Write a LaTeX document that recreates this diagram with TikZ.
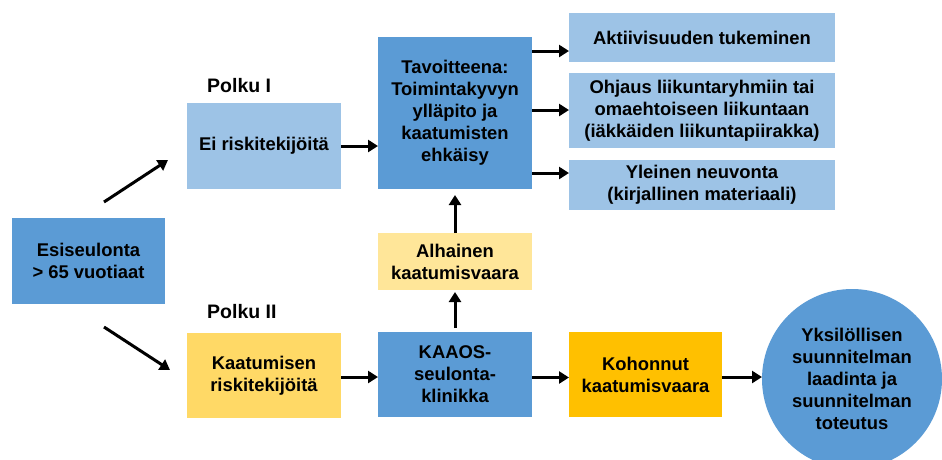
\documentclass[tikz,border=0pt]{standalone}
\usepackage{fontspec}
\setmainfont{Liberation Sans}
\usetikzlibrary{arrows.meta}
\definecolor{dblue}{HTML}{5B9BD5}
\definecolor{lblue}{HTML}{9DC3E6}
\definecolor{lyel}{HTML}{FFE699}
\definecolor{myel}{HTML}{FFD966}
\definecolor{oran}{HTML}{FFC000}
\begin{document}
\begin{tikzpicture}[x=1pt,y=-1pt,
  box/.style={draw=none, inner sep=0pt, outer sep=0pt, align=center,
    font=\fontsize{18.4}{22}\selectfont\bfseries},
  polku/.style={anchor=west, inner sep=0pt, font=\fontsize{19.5}{23}\selectfont\bfseries},
  arr/.style={line width=3pt, -{Triangle[length=10pt,width=12pt]}}
]
\useasboundingbox (0,0) rectangle (942,459);
\clip (0,0) rectangle (942,459);
\fill[white] (0,0) rectangle (942,459);

\node[box, fill=dblue, minimum width=153pt, minimum height=86pt] (esi) at (88.5,261) {Esiseulonta\\> 65 vuotiaat};
\node[box, fill=lblue, minimum width=154pt, minimum height=86pt] (ei) at (264,146) {Ei riskitekijöitä};
\node[box, fill=dblue, minimum width=154pt, minimum height=152pt] (tav) at (455,113) {Tavoitteena:\\Toimintakyvyn\\ylläpito ja\\kaatumisten\\ehkäisy};
\node[box, fill=lblue, minimum width=266pt, minimum height=49pt] (akt) at (702,37.5) {Aktiivisuuden tukeminen};
\node[box, fill=lblue, minimum width=266pt, minimum height=75pt] (ohj) at (702,110.5) {Ohjaus liikuntaryhmiin tai\\omaehtoiseen liikuntaan\\(iäkkäiden liikuntapiirakka)};
\node[box, fill=lblue, minimum width=266pt, minimum height=50pt] (yle) at (702,185) {Yleinen neuvonta\\(kirjallinen materiaali)};
\node[box, fill=lyel, minimum width=154pt, minimum height=57pt] (alh) at (455,261.5) {Alhainen\\kaatumisvaara};
\node[box, fill=myel, minimum width=154pt, minimum height=85pt] (kaa) at (264,375.5) {Kaatumisen\\riskitekijöitä};
\node[box, fill=dblue, minimum width=154pt, minimum height=85pt] (kaaos) at (455,374.5) {KAAOS-\\seulonta-\\klinikka};
\node[box, fill=oran, minimum width=153pt, minimum height=85pt] (koh) at (645.5,374.5) {Kohonnut\\kaatumisvaara};
\node[box, circle, fill=dblue, minimum size=180pt] (yks) at (852,379) {Yksilöllisen\\suunnitelman\\laadinta ja\\suunnitelman\\toteutus};

\node[polku] (p1) at (207,86) {Polku I};
\node[polku] (p2) at (207,312) {Polku II};

\coordinate (d1s) at (104,202);
\coordinate (d1e) at (168,160);
\coordinate (d2s) at (104,327);
\coordinate (d2e) at (170,370);
\draw[arr] (d1s) -- (d1e);
\draw[arr] (d2s) -- (d2e);

\draw[arr] (ei.east) -- (ei.east -| tav.west);
\path (tav.east) ++(0,-62) coordinate (t1);
\path (tav.east) ++(0,-3) coordinate (t2);
\path (tav.east) ++(0,60) coordinate (t3);
\draw[arr] (t1) -- (t1 -| akt.west);
\draw[arr] (t2) -- (t2 -| ohj.west);
\draw[arr] (t3) -- (t3 -| yle.west);

\draw[arr, shorten >=6pt] (alh.north) -- (tav.south);
\draw[arr, shorten <=4pt, shorten >=2pt] (kaaos.north) -- (alh.south);

\path (kaa.east) ++(0,1.5) coordinate (b1);
\draw[arr] (b1) -- (b1 -| kaaos.west);
\path (kaaos.east) ++(0,3) coordinate (b2);
\draw[arr] (b2) -- (b2 -| koh.west);
\path (koh.east) ++(0,2.5) coordinate (b3);
\draw[arr] (b3) -- (b3 -| yks.west);
\end{tikzpicture}
\end{document}
